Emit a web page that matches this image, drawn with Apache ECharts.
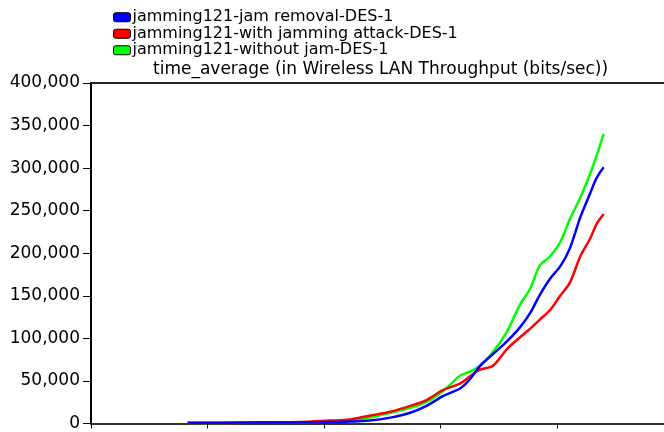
<!DOCTYPE html>
<html>
<head>
    <meta http-equiv="Content-Type" content="text/html; charset=utf-8"/>
    <script type="text/javascript" src="https://cdn.jsdelivr.net/npm/echarts@6/dist/echarts.min.js"></script>
    <style>
        body {
            margin: 0;
            background: #fff;
        }
    </style>
</head>
<body>
<div id="main" style="width: 664px;height:432px;"></div>
<script type="text/javascript">
    // x position (arbitrary time units, ticks every 1 unit)
    var timeData = [0.83, 1.11, 1.45, 1.79, 2.05, 2.22, 2.39, 2.57, 2.74, 2.88, 3.02, 3.17, 3.25,
        3.34, 3.45, 3.57, 3.68, 3.77, 3.85, 3.94, 4.03, 4.11, 4.20, 4.28, 4.34, 4.40];
    var seriesNames = ['jamming121-jam removal-DES-1', 'jamming121-with jamming attack-DES-1', 'jamming121-without jam-DES-1'];
    var jamRemoval = [1000, 1000, 1200, 1200, 1700, 2300, 3400, 6900, 12600, 20700, 32200, 41400, 51700,
        67800, 81600, 96500, 112600, 129900, 150600, 170100, 185100, 205700, 242500, 269000, 288500, 301000];
    var withAttack = [600, 600, 1200, 1700, 3400, 4600, 9200, 13800, 20700, 27600, 39100, 47100, 55200,
        63200, 67800, 87400, 101100, 111500, 121800, 133300, 150600, 165500, 196500, 216100, 234500, 246000];
    var withoutJam = [600, 600, 1150, 1150, 2300, 3400, 6900, 12600, 18400, 25300, 37900, 56300, 60900,
        67800, 83900, 108000, 139100, 158600, 185100, 196500, 213800, 240200, 265500, 291900, 314900, 340200];
    var yTicks = [0, 50000, 400000];

    function pairs(vals) {
        var out = [];
        for (var i = 0; i < vals.length; i++) {
            out.push([timeData[i], vals[i]]);
        }
        return out;
    }

    var myChart = echarts.init(document.getElementById('main'));
    var lineOpt = function (name, data, color, z) {
        return {
            name: name,
            type: 'line',
            data: pairs(data),
            smooth: 0.3,
            showSymbol: false,
            z: z,
            lineStyle: {color: color, width: 2.5},
            itemStyle: {color: color}
        };
    };

    var option = {
        animation: false,
        title: {
            text: 'time_average (in Wireless LAN Throughput (bits/sec))',
            left: 153,
            top: 61,
            padding: 0,
            textStyle: {fontFamily: 'DejaVu Sans', fontSize: 17, fontWeight: 'normal', color: '#000'}
        },
        legend: {
            data: seriesNames,
            orient: 'vertical',
            left: 113,
            top: 9,
            padding: 0,
            itemGap: 0,
            itemWidth: 17,
            itemHeight: 9,
            icon: 'roundRect',
            itemStyle: {borderColor: '#000', borderWidth: 1},
            textStyle: {fontFamily: 'DejaVu Sans', fontSize: 16, lineHeight: 16.5, color: '#000', padding: [0, 0, 0, -3]}
        },
        grid: {left: 91, right: 0, top: 83, bottom: 1},
        xAxis: [{
            type: 'value',
            min: 0,
            max: 4.918,
            interval: 1,
            axisLine: {lineStyle: {color: '#333', width: 2}},
            axisTick: {length: 5, lineStyle: {color: '#000'}},
            axisLabel: {show: false},
            splitLine: {show: false}
        }, {
            type: 'value',
            position: 'top',
            min: 0,
            max: 4.918,
            axisLine: {show: true, lineStyle: {color: '#222', width: 2}},
            axisTick: {show: false},
            axisLabel: {show: false},
            splitLine: {show: false}
        }],
        yAxis: {
            type: 'value',
            min: yTicks[0],
            max: yTicks[2],
            interval: yTicks[1],
            axisLine: {show: true, lineStyle: {color: '#000', width: 2}},
            axisTick: {show: true, length: 8, lineStyle: {color: '#000'}},
            axisLabel: {
                margin: 11,
                fontFamily: 'DejaVu Sans',
                fontSize: 17,
                color: '#000',
                formatter: function (v) {
                    return v.toLocaleString('en-US');
                }
            },
            splitLine: {show: false}
        },
        series: [
            lineOpt(seriesNames[0], jamRemoval, '#0000ff', 4),
            lineOpt(seriesNames[1], withAttack, '#ff0000', 3),
            lineOpt(seriesNames[2], withoutJam, '#00ff00', 2)
        ]
    };
    myChart.setOption(option);
</script>
</body>
</html>
